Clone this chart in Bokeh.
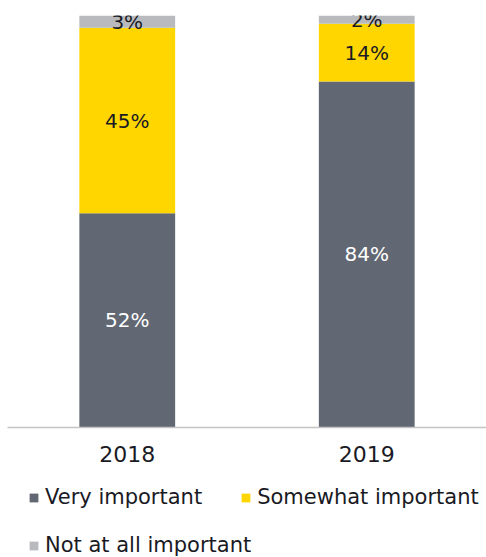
from bokeh.plotting import figure
from bokeh.models import ColumnDataSource, FactorRange, Range1d, Legend, LegendItem
from bokeh.layouts import column
from bokeh.core.properties import value
from bokeh.embed import file_html
from bokeh.resources import INLINE

years = ["2018", "2019"]
very_important = [52, 84]
somewhat_important = [45, 14]
not_important = [3, 2]
series_names = ["Very important", "Somewhat important", "Not at all important"]
colors = ["#626873", "#ffd600", "#b8babd"]
label_colors = ["#ffffff", "#1a1a24", "#1a1a24"]

FONT = "DejaVu Sans"
TXT = "#1a1a24"

src = ColumnDataSource(dict(year=years, v=very_important, s=somewhat_important, n=not_important))

p = figure(x_range=FactorRange(*years), y_range=Range1d(0, 100),
           width=486, height=472,
           output_backend="svg", toolbar_location=None,
           min_border_left=7, min_border_right=0, min_border_top=15, min_border_bottom=45)
p.outline_line_color = None
p.background_fill_color = None
p.border_fill_color = None

renderers = p.vbar_stack(["v", "s", "n"], x="year", width=0.4, color=colors, source=src,
                         line_color=None)

# labels at segment centres
cols = [very_important, somewhat_important, not_important]
lx, ly, lt, lc = [], [], [], []
for i, yr in enumerate(years):
    base = 0
    for k, c in enumerate(cols):
        val = c[i]
        lx.append(yr)
        ly.append(base + val / 2)
        lt.append(f"{val}%")
        lc.append(label_colors[k])
        base += val
lsrc = ColumnDataSource(dict(x=lx, y=ly, t=lt, c=lc))
p.text(x="x", y="y", text="t", text_color="c", source=lsrc, text_align="center",
       text_baseline="middle", text_font=value(FONT), text_font_size="20px")

p.yaxis.visible = False
p.xgrid.visible = False
p.ygrid.visible = False
ax = p.xaxis[0]
ax.axis_line_color = "#c4c4c4"
ax.axis_line_width = 1.5
ax.major_tick_line_color = None
ax.minor_tick_line_color = None
ax.major_label_standoff = 12
ax.major_label_text_font = FONT
ax.major_label_text_font_size = "22px"
ax.major_label_text_color = TXT

# legend area: same series drawn off-range so only their legend swatches show
p2 = figure(x_range=FactorRange(*years), y_range=Range1d(200, 201), width=486, height=85,
            output_backend="svg", toolbar_location=None,
            min_border_left=0, min_border_right=0, min_border_top=0, min_border_bottom=0)
p2.axis.visible = False
p2.grid.visible = False
p2.outline_line_color = None
p2.background_fill_color = None
p2.border_fill_color = None
dummies = p2.vbar_stack(["v", "s", "n"], x="year", width=0.4, color=colors, source=src,
                        line_color=None)

def make_legend(items, loc):
    return Legend(items=items, orientation="horizontal", location=loc,
                  margin=0, padding=0, spacing=38,
                  border_line_color=None, background_fill_alpha=0,
                  glyph_width=11, glyph_height=11, label_standoff=6, label_height=20,
                  label_text_font=FONT, label_text_font_size="21px",
                  label_text_color=TXT)

lg1 = make_legend([LegendItem(label=series_names[0], renderers=[dummies[0]]),
                   LegendItem(label=series_names[1], renderers=[dummies[1]])], (21, 48))
lg2 = make_legend([LegendItem(label=series_names[2], renderers=[dummies[2]])], (21, 0))
p2.add_layout(lg1, "center")
p2.add_layout(lg2, "center")

layout = column(p, p2, spacing=0)
open("out.html", "w").write(file_html(layout, INLINE))
